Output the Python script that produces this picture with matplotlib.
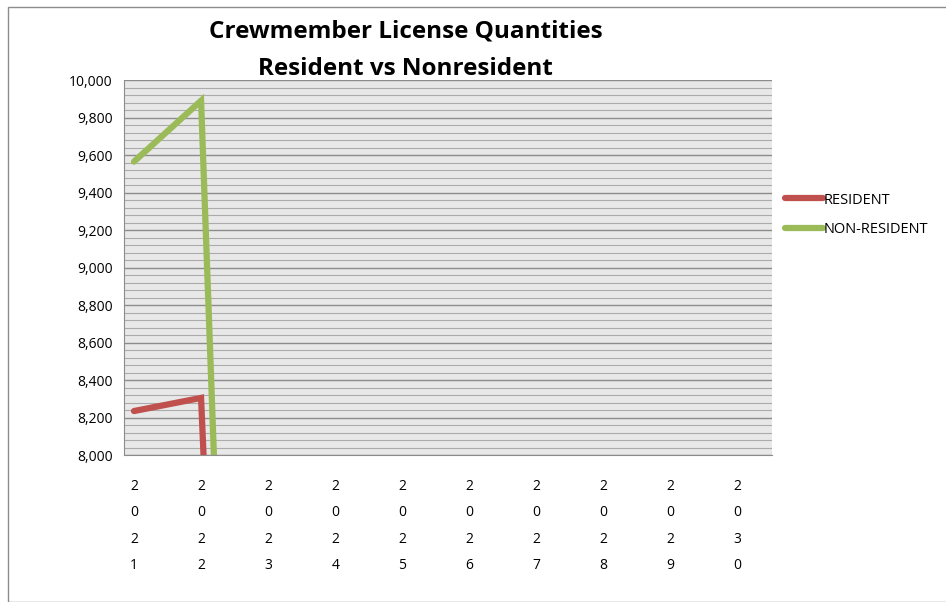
import matplotlib.pyplot as plt
import numpy as np
from matplotlib.patches import Rectangle

# Datos
years = ['2021', '2022', '2023', '2024', '2025', '2026', '2027', '2028', '2029', '2030']
resident = [8235, 8305, 0, np.nan, np.nan, np.nan, np.nan, np.nan, np.nan, np.nan]
non_resident = [9565, 9890, 0, np.nan, np.nan, np.nan, np.nan, np.nan, np.nan, np.nan]

plt.rcParams['font.family'] = ['Open Sans', 'DejaVu Sans']

fig = plt.figure(figsize=(9.46, 6.02), dpi=100)
ax = fig.add_axes([0.131, 0.244, 0.685, 0.623])

x = np.arange(len(years))
ax.plot(x, resident, color='#C0504D', linewidth=4.5, solid_capstyle='round',
        solid_joinstyle='miter', label='RESIDENT')
ax.plot(x, non_resident, color='#9BBB59', linewidth=4.5, solid_capstyle='round',
        solid_joinstyle='miter', label='NON-RESIDENT')

ax.set_facecolor('#E8E8E8')
ax.set_ylim(8000, 10000)
ax.set_xlim(-0.15, 9.51)
ax.set_yticks(np.arange(8000, 10001, 200))
ax.set_yticks(np.arange(8000, 10001, 40), minor=True)
ax.set_yticklabels([f'{v:,}' for v in range(8000, 10001, 200)], fontsize=10)
ax.grid(which='major', axis='y', color='#8C8C8C', linewidth=1.0)
ax.grid(which='minor', axis='y', color='#ABABAB', linewidth=0.8)
ax.set_axisbelow(True)
ax.tick_params(axis='y', which='both', length=0, pad=8)
ax.set_xticks(x)
ax.set_xticklabels(['\n'.join(y) for y in years], fontsize=10, linespacing=2.05)
ax.tick_params(axis='x', length=0, pad=17)

for s in ['top', 'right']:
    ax.spines[s].set_visible(False)
ax.spines['left'].set_color('#8C8C8C')
ax.spines['bottom'].set_color('#8C8C8C')

# Título centrado como en Excel
fig.text(0.429, 0.947, 'Crewmember License Quantities', ha='center', va='center',
         fontsize=17.5, fontweight='bold')
fig.text(0.429, 0.886, 'Resident vs Nonresident', ha='center', va='center',
         fontsize=17.5, fontweight='bold')

ax.legend(loc='upper left', bbox_to_anchor=(1.0, 0.735), frameon=False,
          fontsize=10.5, handlelength=2.6, handletextpad=0.05, labelspacing=1.0)

# Marco del gráfico
fig.patches.append(Rectangle((0.008, 0.0), 0.995, 0.988, transform=fig.transFigure,
                             fill=False, edgecolor='#8C8C8C', linewidth=1.0))

fig.savefig('out.png', dpi=100)
